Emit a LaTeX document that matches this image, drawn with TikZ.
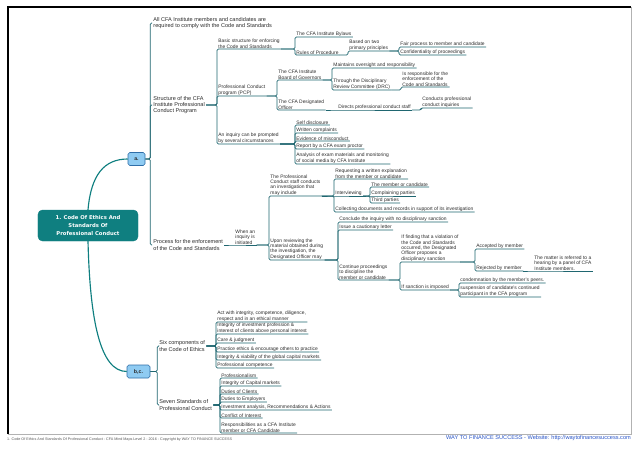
\documentclass[tikz,border=0pt]{standalone}
\usepackage{fontspec}
\setmainfont{Liberation Sans}
\newfontfamily\mmrootfont{DejaVu Sans}
\usepackage{xcolor}
\usepackage{tikz}
\usetikzlibrary{positioning}
\definecolor{mmline}{HTML}{1F6670}
\definecolor{mmtext}{HTML}{2B2B2B}
\definecolor{mmteal}{HTML}{0F7F80}
\definecolor{mmblue}{HTML}{8FCBF2}
\definecolor{mmblueline}{HTML}{2F6EA8}
\definecolor{mmfoot}{HTML}{2A55C8}
\tikzset{
  mmroot/.style={draw=mmteal, fill=mmteal, rounded corners=5pt, minimum width=40mm, minimum height=12.4mm, align=center, text=white, font=\mmrootfont\bfseries\fontsize{6}{9}\selectfont, inner sep=0pt},
  mmsub/.style={draw=mmblueline, fill=mmblue, rounded corners=2pt, minimum height=5.2mm, line width=0.6pt, font=\bfseries\fontsize{6}{7}\selectfont, text=mmtext, inner sep=0pt},
  mmmain/.style={anchor=west, align=left, inner xsep=0.5mm, inner ysep=0.3mm, text=mmtext, font=\fontsize{6.3}{7}\selectfont},
  mmtopic/.style={anchor=south west, align=left, inner xsep=0.5mm, inner ysep=0.2mm, text=mmtext, font=\fontsize{5.6}{6.1}\selectfont},
  mmlink/.style={draw=mmline, line width=0.8pt, rounded corners=1.5pt},
  mmbranch/.style={draw=mmteal, line width=1.3pt},
  mmfootnote/.style={inner sep=0pt, font=\fontsize{4.2}{5}\selectfont, text=gray!70!black}
}
\begin{document}
\begin{tikzpicture}[x=0.4mm, y=-0.4mm]
  \fill[white] (0,0) rectangle (638,452);
  \useasboundingbox (0,0) rectangle (638,452);
  % page frame
  \draw[line width=1.2pt] (8,434) -- (8,7) -- (631,7);
  \draw[gray!60, line width=0.5pt] (631,7) -- (631,434) -- (8,434);

  % central topic and its two branches
  \node[mmroot] (root) at (88,225.5) {1. Code Of Ethics And\\Standards Of\\Professional Conduct};
  \node[mmsub, minimum width=6.8mm] (a) at (136.5,159) {a.};
  \node[mmsub, minimum width=9.2mm] (bc) at (138.5,371.5) {b,c.};
  \draw[mmbranch] (root.north) .. controls (91,175) and (104,159) .. (a.west);
  \draw[mmbranch] (root.south) .. controls (90,320) and (100,371.5) .. (bc.west);

  % branch a.
  \node[mmmain] (allcfa) at (152,23) {All CFA Institute  members and candidates are\\required to  comply with the Code and Standards};
  \node[mmmain] (structure) at (152,105) {Structure of the CFA\\Institute Professional\\Conduct Program};
  \node[mmmain] (process) at (152,245) {Process for the enforcement\\of the Code and Standards};
  \draw[mmlink] (a.east) -- ++(5,0) |- (allcfa.west);
  \draw[mmlink] (a.east) -- ++(5,0) |- (structure.west);
  \draw[mmlink] (a.east) -- ++(5,0) |- (process.west);

  \node[mmtopic] (basic) at (217,49) {Basic structure for enforcing\\the Code and Standards};
  \node[mmtopic] (pcp) at (217,96) {Professional Conduct\\program (PCP)};
  \node[mmtopic] (inquiry) at (217,144) {An inquiry can be prompted\\by several circumstances};
  \draw[mmlink] (structure.east) -| (basic.south west) -- (basic.south east);
  \draw[mmlink] (structure.east) -| (pcp.south west) -- (pcp.south east);
  \draw[mmlink] (structure.east) -| (inquiry.south west) -- (inquiry.south east);

  \node[mmtopic] (bylaws) at (295,37) {The CFA Institute Bylaws};
  \node[mmtopic] (rules) at (295,55) {Rules of Procedure};
  \draw[mmlink] (basic.south east) -| (bylaws.south west) -- (bylaws.south east);
  \draw[mmlink] (basic.south east) -| (rules.south west) -- (rules.south east);
  \node[mmtopic] (basedtwo) at (348,51) {Based on two\\primary principles};
  \draw[mmlink] (rules.south east) -| (basedtwo.south west) -- (basedtwo.south east);
  \node[mmtopic] (fairproc) at (399,47) {Fair process to member and candidate};
  \node[mmtopic] (confid) at (399,55) {Confidentiality of proceedings};
  \draw[mmlink] (basedtwo.south east) -| (fairproc.south west) -- (fairproc.south east);
  \draw[mmlink] (basedtwo.south east) -| (confid.south west) -- (confid.south east);

  \node[mmtopic] (board) at (277,80) {The CFA Institute\\Board of Governors};
  \node[mmtopic] (desoff) at (277,110) {The CFA Designated\\Officer};
  \draw[mmlink] (pcp.south east) -| (board.south west) -- (board.south east);
  \draw[mmlink] (pcp.south east) -| (desoff.south west) -- (desoff.south east);
  \node[mmtopic] (oversight) at (332,68) {Maintains oversight and responsibility};
  \node[mmtopic] (drc) at (332,90) {Through the Disciplinary\\Review Committee (DRC)};
  \draw[mmlink] (board.south east) -| (oversight.south west) -- (oversight.south east);
  \draw[mmlink] (board.south east) -| (drc.south west) -- (drc.south east);
  \node[mmtopic] (enforce) at (401,87) {Is responsible for the\\enforcement of the\\Code and Standards};
  \draw[mmlink] (drc.south east) -| (enforce.south west) -- (enforce.south east);
  \node[mmtopic] (directs) at (337,110) {Directs professional conduct staff};
  \draw[mmlink] (desoff.south east) -- (directs.south west) -- (directs.south east);
  \node[mmtopic] (conducts) at (421,108) {Conducts professional\\conduct inquiries};
  \draw[mmlink] (directs.south east) -| (conducts.south west) -- (conducts.south east);

  \node[mmtopic] (selfdisc) at (295,125) {Self disclosure};
  \node[mmtopic] (written) at (295,133) {Written complaints};
  \node[mmtopic] (evidence) at (295,141) {Evidence of misconduct};
  \node[mmtopic] (proctor) at (295,149) {Report by a CFA exam proctor};
  \node[mmtopic] (analysis) at (295,164) {Analysis of exam materials and monitoring\\of social media by CFA Institute};
  \draw[mmlink] (inquiry.south east) -| (selfdisc.south west) -- (selfdisc.south east);
  \draw[mmlink] (inquiry.south east) -| (written.south west) -- (written.south east);
  \draw[mmlink] (inquiry.south east) -| (evidence.south west) -- (evidence.south east);
  \draw[mmlink] (inquiry.south east) -| (proctor.south west) -- (proctor.south east);
  \draw[mmlink] (inquiry.south east) -| (analysis.south west) -- (analysis.south east);

  \node[mmtopic] (initiated) at (234,245) {When an\\inquiry is\\initiated};
  \draw[mmlink] (process.east) -- (initiated.south west) -- (initiated.south east);
  \node[mmtopic] (staffinv) at (269,196) {The Professional\\Conduct staff conducts\\an investigation that\\may include};
  \node[mmtopic] (reviewing) at (269,260) {Upon reviewing the\\material obtained during\\the investigation, the\\Designated Officer may};
  \draw[mmlink] (initiated.south east) -| (staffinv.south west) -- (staffinv.south east);
  \draw[mmlink] (initiated.south east) -| (reviewing.south west) -- (reviewing.south east);

  \node[mmtopic] (request) at (334,179) {Requesting a written  explanation\\from the member  or  candidate};
  \node[mmtopic] (interview) at (334,196) {Interviewing};
  \node[mmtopic] (collect) at (334,212) {Collecting documents and records in support of its investigation};
  \draw[mmlink] (staffinv.south east) -| (request.south west) -- (request.south east);
  \draw[mmlink] (staffinv.south east) -- (interview.south west) -- (interview.south east);
  \draw[mmlink] (staffinv.south east) -| (collect.south west) -- (collect.south east);
  \node[mmtopic] (member) at (370,187) {The member or candidate};
  \node[mmtopic] (complain) at (370,196) {Complaining parties};
  \node[mmtopic] (third) at (370,203) {Third parties};
  \draw[mmlink] (interview.south east) -| (member.south west) -- (member.south east);
  \draw[mmlink] (interview.south east) -- (complain.south west) -- (complain.south east);
  \draw[mmlink] (interview.south east) -| (third.south west) -- (third.south east);

  \node[mmtopic] (nosanction) at (338,222) {Conclude the inquiry with no disciplinary sanction};
  \node[mmtopic] (caution) at (338,230) {Issue a cautionary letter};
  \node[mmtopic] (continue) at (338,280) {Continue proceedings\\to discipline the\\member or candidate};
  \draw[mmlink] (reviewing.south east) -| (nosanction.south west) -- (nosanction.south east);
  \draw[mmlink] (reviewing.south east) -| (caution.south west) -- (caution.south east);
  \draw[mmlink] (reviewing.south east) -| (continue.south west) -- (continue.south east);
  \node[mmtopic] (violation) at (400,262) {If finding that a violation of\\the Code and Standards\\occurred, the Designated\\Officer proposes a\\disciplinary sanction};
  \node[mmtopic] (imposed) at (400,290) {If sanction is imposed};
  \draw[mmlink] (continue.south east) -| (violation.south west) -- (violation.south east);
  \draw[mmlink] (continue.south east) -| (imposed.south west) -- (imposed.south east);
  \node[mmtopic] (accepted) at (475,249) {Accepted by member};
  \node[mmtopic] (rejected) at (475,271) {Rejected by member};
  \draw[mmlink] (violation.south east) -| (accepted.south west) -- (accepted.south east);
  \draw[mmlink] (violation.south east) -| (rejected.south west) -- (rejected.south east);
  \node[mmtopic] (hearing) at (533,271) {The matter is referred to a\\hearing by a panel of CFA\\Institute members.};
  \draw[mmlink] (rejected.south east) -- (hearing.south west) -- (hearing.south east);
  \node[mmtopic] (condemn) at (459,283) {condemnation by the member's peers.};
  \node[mmtopic] (suspend) at (459,297) {suspension of candidate's continued\\participant in the CFA program};
  \draw[mmlink] (imposed.south east) -| (condemn.south west) -- (condemn.south east);
  \draw[mmlink] (imposed.south east) -| (suspend.south west) -- (suspend.south east);

  % branch b,c.
  \node[mmmain] (sixcomp) at (158,346) {Six components of\\the Code of Ethics};
  \node[mmmain] (sevenstd) at (158,405) {Seven Standards of\\Professional Conduct};
  \draw[mmlink] (bc.east) -- ++(7,0) |- (sixcomp.west);
  \draw[mmlink] (bc.east) -- ++(7,0) |- (sevenstd.west);

  \node[mmtopic] (actwith) at (216,322) {Act with  integrity,  competence, diligence,\\respect  and  in  an  ethical  manner};
  \node[mmtopic] (profint) at (216,334) {Integrity  of investment  profession  \&\\interest  of clients  above personal  interest};
  \node[mmtopic] (care) at (216,343) {Care \& judgment};
  \node[mmtopic] (practice) at (216,352) {Practice ethics \& encourage others to practice};
  \node[mmtopic] (viability) at (216,360) {Integrity \& viability of the global capital markets};
  \node[mmtopic] (competence) at (216,368) {Professional competence};
  \draw[mmlink] (sixcomp.east) -| (actwith.south west) -- (actwith.south east);
  \draw[mmlink] (sixcomp.east) -| (profint.south west) -- (profint.south east);
  \draw[mmlink] (sixcomp.east) -| (care.south west) -- (care.south east);
  \draw[mmlink] (sixcomp.east) -| (practice.south west) -- (practice.south east);
  \draw[mmlink] (sixcomp.east) -| (viability.south west) -- (viability.south east);
  \draw[mmlink] (sixcomp.east) -| (competence.south west) -- (competence.south east);

  \node[mmtopic] (profism) at (220,378) {Professionalism};
  \node[mmtopic] (capmkt) at (220,386) {Integrity of Capital markets};
  \node[mmtopic] (clients) at (220,394) {Duties of Clients};
  \node[mmtopic] (employers) at (220,402) {Duties to Employers};
  \node[mmtopic] (recomm) at (220,410) {Investment analysis, Recommendations \& Actions};
  \node[mmtopic] (conflict) at (220,418) {Conflict of Interest};
  \node[mmtopic] (responsib) at (220,433) {Responsibilities  as  a CFA Institute\\member  or  CFA Candidate};
  \draw[mmlink] (sevenstd.east) -| (profism.south west) -- (profism.south east);
  \draw[mmlink] (sevenstd.east) -| (capmkt.south west) -- (capmkt.south east);
  \draw[mmlink] (sevenstd.east) -| (clients.south west) -- (clients.south east);
  \draw[mmlink] (sevenstd.east) -| (employers.south west) -- (employers.south east);
  \draw[mmlink] (sevenstd.east) -| (recomm.south west) -- (recomm.south east);
  \draw[mmlink] (sevenstd.east) -| (conflict.south west) -- (conflict.south east);
  \draw[mmlink] (sevenstd.east) -| (responsib.south west) -- (responsib.south east);

  % footer
  \node[mmfootnote, anchor=west] (footleft) at (7,440) {1. Code Of Ethics And Standards Of Professional Conduct - CFA Mind Maps Level 2 - 2016 - Copyright by WAY TO FINANCE SUCCESS};
  \node[inner sep=0pt, anchor=east, font=\fontsize{6.4}{7}\selectfont, text=mmfoot] (footright) at (631,438) {WAY TO FINANCE SUCCESS - Website: http://waytofinancesuccess.com};
\end{tikzpicture}
\end{document}
